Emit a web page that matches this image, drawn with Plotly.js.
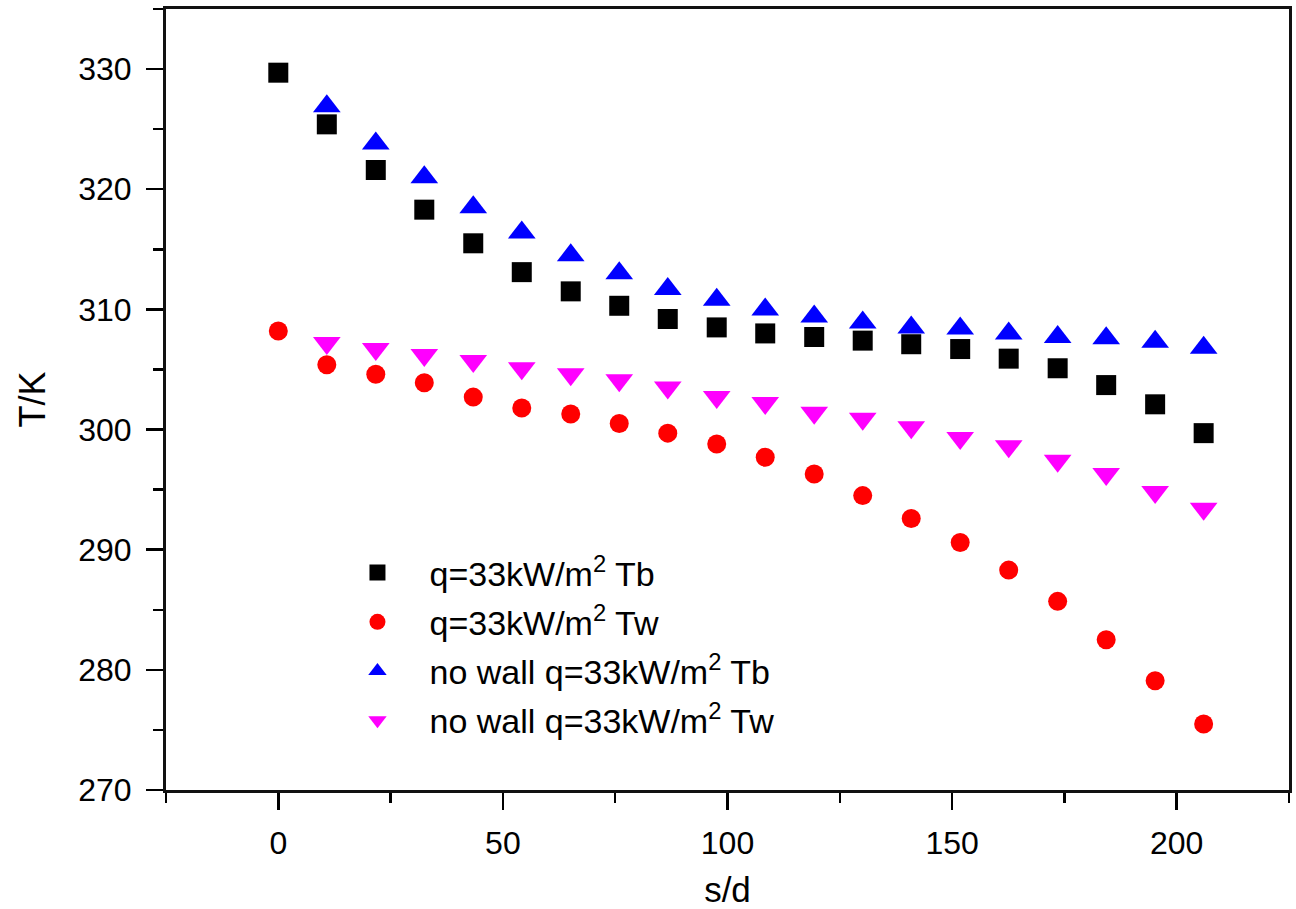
<!DOCTYPE html>
<html>
<head>
<meta charset="utf-8">
<script src="https://cdn.plot.ly/plotly-3.0.1.min.js"></script>
<style>html,body{margin:0;padding:0;background:#fff;}#chart{width:1296px;height:909px;}</style>
</head>
<body>
<div id="chart"></div>
<script>
// s/d positions
const sdAll = [0, 10.8, 21.7, 32.5, 43.4, 54.2, 65.1, 75.9, 86.7, 97.6, 108.4, 119.3, 130.1, 140.9, 151.8, 162.6, 173.5, 184.3, 195.2, 206];
const sdNoWall = [10.8, 21.7, 32.5, 43.4, 54.2, 65.1, 75.9, 86.7, 97.6, 108.4, 119.3, 130.1, 140.9, 151.8, 162.6, 173.5, 184.3, 195.2, 206];

// temperatures (K)
const tbWall = [329.7, 325.4, 321.6, 318.3, 315.5, 313.1, 311.5, 310.3, 309.2, 308.5, 308.0, 307.7, 307.4, 307.1, 306.7, 305.9, 305.1, 303.7, 302.1, 299.7];
const twWall = [308.2, 305.4, 304.6, 303.9, 302.7, 301.8, 301.3, 300.5, 299.7, 298.8, 297.7, 296.3, 294.5, 292.6, 290.6, 288.3, 285.7, 282.5, 279.1, 275.5];
const tbNoWall = [326.9, 323.8, 321.0, 318.5, 316.4, 314.5, 313.0, 311.7, 310.8, 310.0, 309.4, 308.9, 308.5, 308.4, 308.0, 307.7, 307.6, 307.3, 306.8];
const twNoWall = [307.2, 306.7, 306.2, 305.7, 305.1, 304.6, 304.1, 303.5, 302.7, 302.2, 301.4, 300.9, 300.2, 299.3, 298.6, 297.4, 296.3, 294.8, 293.4];

const seriesNames = [
  'q=33kW/m<sup>2</sup> Tb',
  'q=33kW/m<sup>2</sup> Tw',
  'no wall q=33kW/m<sup>2</sup> Tb',
  'no wall q=33kW/m<sup>2</sup> Tw'
];

const xTickVals = [0, 50, 100, 150, 200];
const yTickVals = [270, 280, 290, 300, 310, 320, 330];

const font = 'Arial, "Liberation Sans", sans-serif';

const traces = [
  {x: sdAll, y: tbWall, name: seriesNames[0], legendgroup: 'a', mode: 'markers', type: 'scatter',
   marker: {symbol: 'square', size: 20, color: '#000000'}},
  {x: sdAll, y: twWall, name: seriesNames[1], legendgroup: 'b', mode: 'markers', type: 'scatter',
   marker: {symbol: 'circle', size: 19, color: '#ff0000'}},
  {x: sdNoWall, y: tbNoWall, name: seriesNames[2], legendgroup: 'c', mode: 'markers', type: 'scatter',
   marker: {symbol: 'triangle-up', size: 24, color: '#0000ff'}},
  {x: sdNoWall, y: twNoWall, name: seriesNames[3], legendgroup: 'd', mode: 'markers', type: 'scatter',
   marker: {symbol: 'triangle-down', size: 24, color: '#ff00ff'}}
];

const layout = {
  width: 1296, height: 909,
  margin: {l: 166, r: 7, t: 9, b: 119},
  paper_bgcolor: '#ffffff', plot_bgcolor: '#ffffff',
  font: {family: font, color: '#000000', size: 32},
  showlegend: true,
  legend: {
    x: 0.142, y: 0.315, xanchor: 'left', yanchor: 'top',
    bgcolor: 'rgba(0,0,0,0)', borderwidth: 0,
    font: {family: font, size: 34, color: '#000000'},
    traceorder: 'grouped', tracegroupgap: 2, itemwidth: 94
  },
  xaxis: {
    range: [-25, 225], tickmode: 'array', tickvals: xTickVals, ticktext: xTickVals.map(String),
    ticks: 'outside', ticklen: 17, tickwidth: 2.5, tickcolor: '#000',
    minor: {tickmode: 'linear', tick0: -25, dtick: 25, ticks: 'outside', ticklen: 10, tickwidth: 2.5, tickcolor: '#000', showgrid: false},
    showline: true, linewidth: 3, linecolor: '#111111', mirror: true,
    showgrid: false, zeroline: false,
    tickfont: {family: font, size: 32, color: '#000'},
    ticklabelstandoff: 6,
    title: {text: 's/d', font: {family: font, size: 35, color: '#000'}, standoff: 22}
  },
  yaxis: {
    range: [270, 335], tickmode: 'array', tickvals: yTickVals, ticktext: yTickVals.map(String),
    ticks: 'outside', ticklen: 17, tickwidth: 2.5, tickcolor: '#000',
    minor: {tickmode: 'linear', tick0: 270, dtick: 5, ticks: 'outside', ticklen: 10, tickwidth: 2.5, tickcolor: '#000', showgrid: false},
    showline: true, linewidth: 3, linecolor: '#111111', mirror: true,
    showgrid: false, zeroline: false,
    tickfont: {family: font, size: 32, color: '#000'},
    ticklabelstandoff: 8,
    title: {text: 'T/K', font: {family: font, size: 36, color: '#000'}, standoff: 22}
  }
};

Plotly.newPlot('chart', traces, layout, {displayModeBar: false, staticPlot: true});
</script>
</body>
</html>
